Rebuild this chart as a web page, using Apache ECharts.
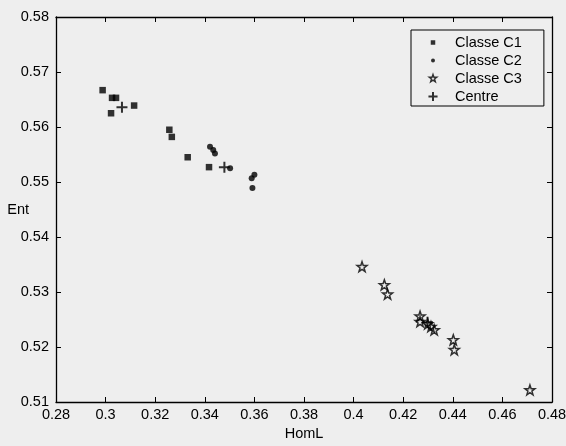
<!DOCTYPE html>
<html>
<head>
<meta charset="utf-8">
<script src="https://cdn.jsdelivr.net/npm/echarts@6/dist/echarts.min.js"></script>
<style>
  html, body { margin: 0; padding: 0; background: #eeeeee; }
  #chart { width: 566px; height: 446px; }
</style>
</head>
<body>
<div id="chart"></div>
<script>
  // points: [HomL, Ent]
  const classC1 = [
    [0.2988, 0.5667], [0.3026, 0.5653], [0.3042, 0.5653], [0.3022, 0.5625],
    [0.3115, 0.5639], [0.3257, 0.5595], [0.3267, 0.5582], [0.3331, 0.5545],
    [0.3417, 0.5527]
  ];
  const classC2 = [
    [0.3421, 0.5564], [0.3434, 0.5558], [0.3441, 0.5552], [0.3502, 0.5525],
    [0.3600, 0.5513], [0.3589, 0.5507], [0.3592, 0.5489]
  ];
  const classC3 = [
    [0.4034, 0.5346], [0.4124, 0.5313], [0.4137, 0.5296], [0.4268, 0.5256],
    [0.4268, 0.5246], [0.4299, 0.5242], [0.4312, 0.5237], [0.4325, 0.5231],
    [0.4402, 0.5213], [0.4406, 0.5195], [0.4711, 0.5122]
  ];
  const centres = [[0.3066, 0.5636], [0.3479, 0.5527], [0.4298, 0.5245]];

  const seriesNames = ['Classe C1', 'Classe C2', 'Classe C3', 'Centre'];
  const xRange = [0.28, 0.48, 0.02];
  const yRange = [0.51, 0.58, 0.01];

  const ink = '#000';
  const font = 'Liberation Sans, Arial, Helvetica, sans-serif';

  const starPath = 'M0,-10L2.35,-3.24L9.51,-3.09L3.8,1.24L5.88,8.09L0,4L-5.88,8.09L-3.8,1.24L-9.51,-3.09L-2.35,-3.24Z';
  const plusPath = 'M0,-5L0,5M-5,0L5,0';

  // legend icons, padded with moveTo so they keep the small size of the original
  const legendIcons = [
    'path://M-10,-10M10,10M-4.5,-4.5L4.5,-4.5L4.5,4.5L-4.5,4.5Z',
    'path://M-10,-10M10,10M-4,0A4,4,0,1,1,4,0A4,4,0,1,1,-4,0Z',
    'path://M-12.5,-12.5M12.5,12.5' + starPath,
    'path://M-11,-11M11,11M0,-10L0,10M-10,0L10,0'
  ];
  const legendStyles = [
    { color: ink, borderWidth: 0 },
    { color: ink, borderWidth: 0 },
    { color: 'rgba(0,0,0,0)', borderColor: ink, borderWidth: 1.4 },
    { color: ink, borderColor: ink, borderWidth: 2 }
  ];

  function valueAxis(range, pos, showLabel) {
    return {
      type: 'value',
      position: pos,
      min: range[0],
      max: range[1],
      interval: range[2],
      scale: true,
      splitLine: { show: false },
      axisLine: { show: true, onZero: false, lineStyle: { color: ink, width: 1.3 } },
      axisTick: { show: true, inside: true, length: 5, lineStyle: { color: ink } },
      axisLabel: { show: showLabel, color: ink, fontSize: 14.5, fontFamily: font }
    };
  }

  const xMain = valueAxis(xRange, 'bottom', true);
  xMain.name = 'HomL';
  xMain.nameLocation = 'middle';
  xMain.nameGap = 21;
  xMain.nameTextStyle = { color: ink, fontSize: 14.5, fontFamily: font };
  xMain.axisLabel.margin = 5;

  const yMain = valueAxis(yRange, 'left', true);
  yMain.name = 'Ent';
  yMain.nameLocation = 'middle';
  yMain.nameRotate = 0;
  yMain.nameGap = 27;
  yMain.nameMoveOverlap = false;
  yMain.nameTextStyle = { color: ink, fontSize: 14.5, fontFamily: font };
  yMain.axisLabel.margin = 7;

  const chart = echarts.init(document.getElementById('chart'));
  chart.setOption({
    backgroundColor: '#eeeeee',
    animation: false,
    grid: { left: 56, right: 14, top: 17, bottom: 44, containLabel: false, outerBoundsMode: 'none' },
    xAxis: [xMain, valueAxis(xRange, 'top', false)],
    yAxis: [yMain, valueAxis(yRange, 'right', false)],
    legend: {
      orient: 'vertical',
      left: 411,
      top: 30,
      padding: [5, 22, 2, 16],
      itemWidth: 34,
      itemHeight: 10,
      itemGap: 3,
      selectedMode: false,
      borderColor: ink,
      borderWidth: 1,
      textStyle: { color: ink, fontSize: 14.5, fontFamily: font },
      data: seriesNames.map((n, i) => ({ name: n, icon: legendIcons[i], itemStyle: legendStyles[i] }))
    },
    series: [
      {
        name: seriesNames[0], type: 'scatter', data: classC1,
        symbol: 'rect', symbolSize: 6.5,
        itemStyle: { color: ink }
      },
      {
        name: seriesNames[1], type: 'scatter', data: classC2,
        symbol: 'circle', symbolSize: 6,
        itemStyle: { color: ink }
      },
      {
        name: seriesNames[2], type: 'scatter', data: classC3,
        symbol: 'path://' + starPath, symbolSize: 10,
        itemStyle: { color: 'rgba(0,0,0,0)', borderColor: ink, borderWidth: 1.5 }
      },
      {
        name: seriesNames[3], type: 'scatter', data: centres,
        symbol: 'path://' + plusPath, symbolSize: 11, z: 5,
        itemStyle: { color: ink, borderColor: ink, borderWidth: 2 }
      }
    ]
  });
</script>
</body>
</html>
